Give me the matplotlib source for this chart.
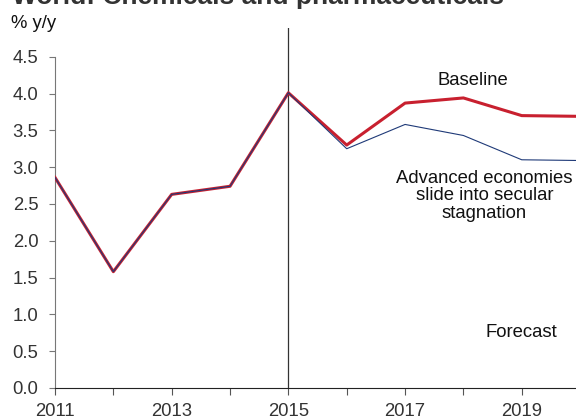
import numpy as np
import matplotlib.pyplot as plt

plt.rcParams['font.family'] = ['Liberation Sans', 'DejaVu Sans']

years = [2011, 2012, 2013, 2014, 2015, 2016, 2017, 2018, 2019, 2020]
baseline = [2.86, 1.58, 2.63, 2.74, 4.01, 3.30, 3.87, 3.94, 3.70, 3.69]
advanced = [2.86, 1.58, 2.63, 2.74, 4.01, 3.25, 3.58, 3.43, 3.10, 3.09]

yticks = np.arange(0, 4.51, 0.5)
xticks = list(range(2011, 2020))
xticklabels = [str(y) if y % 2 == 1 else '' for y in xticks]

fig = plt.figure(figsize=(5.76, 4.17), dpi=100)
ax = fig.add_axes([55 / 576, 29 / 417, 1 - 55 / 576, (388 - 28) / 417])

ax.plot(years, baseline, color='#C8202F', lw=2.2, zorder=3)
ax.plot(years, advanced, color='#1F3A78', lw=0.8, zorder=4)
ax.axvline(2015, color='#333333', lw=0.9, zorder=2)

ax.set_xlim(2011, 2019.93)
ax.set_ylim(0, 4.89)
ax.set_yticks(yticks)
ax.set_yticklabels([f'{v:.1f}' for v in yticks])
ax.set_xticks(xticks)
ax.set_xticklabels(xticklabels)

for s in ['top', 'right']:
    ax.spines[s].set_visible(False)
ax.spines['left'].set_bounds(0, 4.5)
ax.spines['left'].set_color('#777777')
ax.spines['bottom'].set_color('#222222')
ax.tick_params(axis='y', length=4.5, color='#777777', labelsize=13.3, labelcolor='#333333', pad=7.5)
ax.tick_params(axis='x', length=5, color='#555555', labelsize=13.3, labelcolor='#333333', pad=6)

ax.text(2018.16, 4.18, 'Baseline', ha='center', va='center', fontsize=13.3, color='#111111')
ax.text(2018.36, 2.61, 'Advanced economies\nslide into secular\nstagnation', ha='center', va='center',
        fontsize=13.3, color='#111111', linespacing=1.05)
ax.text(2018.99, 0.75, 'Forecast', ha='center', va='center', fontsize=13.3, color='#111111')

fig.text(11 / 576, 1 - 23 / 417, '% y/y', ha='left', va='center', fontsize=13.3, color='#111111')
fig.text(12 / 576, 1 - 4 / 417, 'World: Chemicals and pharmaceuticals', ha='left', va='baseline',
         fontsize=19, fontweight='bold', color='#333333')

fig.savefig('out.png', dpi=100)
